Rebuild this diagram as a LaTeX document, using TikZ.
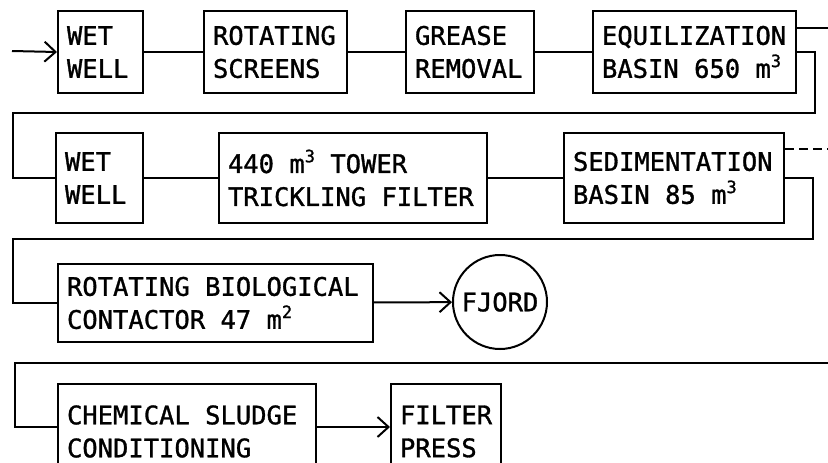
\documentclass[tikz,border=0pt]{standalone}
\usepackage{fontspec}
\usetikzlibrary{arrows.meta}
\newfontfamily\unitfont[FakeBold=1.2]{DejaVu Sans Mono}
\newcommand{\upnum}[1]{\raisebox{0.42em}{\fontsize{17}{17}\selectfont #1}}

\begin{document}
\begin{tikzpicture}[x=1pt, y=-1pt, line width=2pt,
    >={Straight Barb[length=11pt,width=20pt]},
    unit/.style={draw, anchor=north west, inner xsep=9pt, inner ysep=0pt,
        align=flush left, font={\unitfont\fontsize{25.5}{33}\selectfont}},
    outlet/.style={draw, circle, minimum size=94pt, inner sep=0pt,
        font={\unitfont\fontsize{25.5}{33}\selectfont}}]
    \useasboundingbox (0,0) rectangle (828,463);
    \clip (0,0) rectangle (828,463);

    % First row
    \node[unit, text width=67pt, minimum height=82pt] (ww1) at (57,10) {WET\\WELL};
    \node[unit, text width=125pt, minimum height=82pt] (scr) at (203,10) {ROTATING\\SCREENS};
    \node[unit, text width=110pt, minimum height=82pt] (grs) at (405,10) {GREASE\\REMOVAL};
    \node[unit, text width=185pt, minimum height=82pt] (eqb) at (592,10) {EQUILIZATION\\BASIN 650 m\upnum{3}};

    % Second row
    \node[unit, text width=69pt, minimum height=90pt] (ww2) at (55,132) {WET\\WELL};
    \node[unit, text width=250pt, minimum height=90pt] (tkf) at (218,132) {440 m\upnum{3} TOWER\\TRICKLING FILTER};
    \node[unit, text width=202pt, minimum height=90pt] (sed) at (563,132) {SEDIMENTATION\\BASIN 85 m\upnum{3}};

    % Third row
    \node[unit, text width=297pt, minimum height=78pt] (rbc) at (57,263) {ROTATING BIOLOGICAL\\CONTACTOR 47 m\upnum{2}};
    \node[outlet] (fjord) at (500,302) {FJORD};

    % Sludge line
    \node[unit, text width=240pt, minimum height=95pt] (csc) at (57,383) {CHEMICAL SLUDGE\\CONDITIONING};
    \node[unit, text width=92pt, minimum height=95pt] (fpr) at (390,383) {FILTER\\PRESS};

    % Free ends and bends
    \coordinate (in) at (12,51);
    \coordinate (out1) at (828,28);
    \coordinate (r1a) at (815,113);
    \coordinate (r1b) at (13,113);
    \coordinate (out2) at (828,149);
    \coordinate (r2a) at (813,239);
    \coordinate (r2b) at (13,239);
    \coordinate (s1) at (828,363);
    \coordinate (s0) at (15,363);
    \coordinate (sl) at (15,427);

    % Flow lines
    \draw[->] (in) -- (ww1.west);
    \draw (ww1) -- (scr) -- (grs) -- (eqb);
    \draw (eqb.east |- out1) -- (out1);
    \draw (eqb.east) -| (r1a) -- (r1b) |- (ww2.west);
    \draw (ww2) -- (tkf) -- (sed);
    \draw[dash pattern=on 9pt off 5pt] (sed.east |- out2) -- (out2);
    \draw (sed.east) -| (r2a) -- (r2b) |- (rbc.west);
    \draw[->] (rbc) -- (fjord);
    \draw (s1) -- (s0) |- (csc.west |- sl);
    \draw[->] (csc.east |- sl) -- (fpr.west |- sl);
\end{tikzpicture}
\end{document}
